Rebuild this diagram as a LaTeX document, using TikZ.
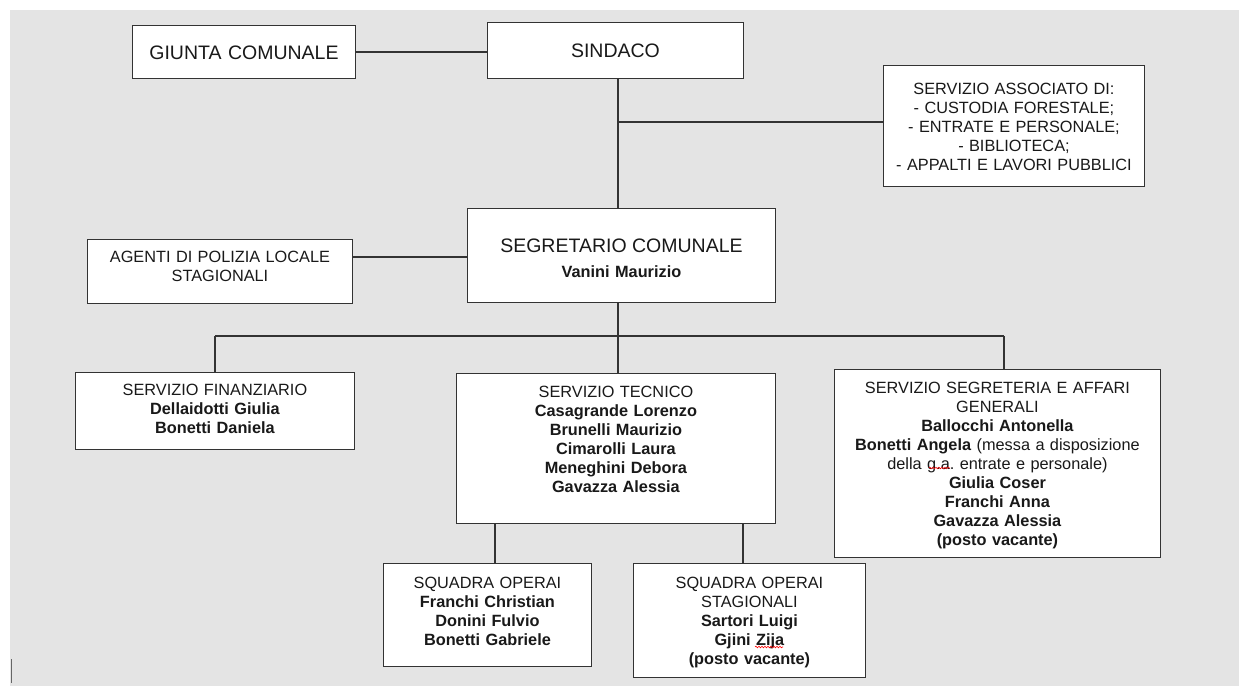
\documentclass[tikz,border=0pt]{standalone}
\usepackage{fontspec}
\setmainfont{Liberation Sans}
\usetikzlibrary{decorations.pathmorphing}
\usetikzlibrary{calc}
\definecolor{sfondo}{HTML}{E4E4E4}
\definecolor{bordo}{HTML}{333333}
\newcommand{\titolo}{\fontsize{19.5}{23}\selectfont}
\newcommand{\testo}{\fontsize{16.3}{19}\selectfont}
\frenchspacing

\begin{document}
\begin{tikzpicture}[x=1pt,y=-1pt,
  ufficio/.style={draw=bordo,fill=white,line width=.9pt,anchor=north west,inner sep=0pt,
    align=center,text=black!90,font=\testo},
  linea/.style={draw=bordo,line width=1.1pt},
  errore/.style={red,line width=.6pt,decorate,decoration={snake,amplitude=.8pt,segment length=3pt}}]
\useasboundingbox (0,0) rectangle (1239,686);
\fill[white] (0,0) rectangle (1239,686);
\fill[sfondo] (9.5,10) rectangle (1239,686);
\draw[black!60,line width=1.2pt] (11.5,659) -- (11.5,683);

\node[ufficio,font=\titolo,text width=223pt,text height=34pt,text depth=19pt] (giunta) at (132,25) {GIUNTA COMUNALE};
\node[ufficio,font=\titolo,text width=256pt,text height=35.5pt,text depth=20.5pt] (sindaco) at (487,22) {SINDACO};
\node[ufficio,text width=261pt,text height=29pt,text depth=92pt] (associato) at (883,65)
  {SERVIZIO ASSOCIATO DI:\\- CUSTODIA FORESTALE;\\- ENTRATE E PERSONALE;\\- BIBLIOTECA;\\- APPALTI E LAVORI PUBBLICI};
\node[ufficio,text width=308pt,text height=44.3pt,text depth=49.7pt] (segretario) at (467,208)
  {{\titolo SEGRETARIO COMUNALE}\\[6pt]\textbf{Vanini Maurizio}};
\node[ufficio,text width=265pt,text height=22.9pt,text depth=41.1pt] (polizia) at (87,239)
  {AGENTI DI POLIZIA LOCALE\\STAGIONALI};
\node[ufficio,text width=279pt,text height=22.9pt,text depth=54.1pt] (finanziario) at (75,372)
  {SERVIZIO FINANZIARIO\\\textbf{Dellaidotti Giulia}\\\textbf{Bonetti Daniela}};
\node[ufficio,text width=319pt,text height=23.6pt,text depth=126.4pt] (tecnico) at (456,373)
  {SERVIZIO TECNICO\\\textbf{Casagrande Lorenzo}\\\textbf{Brunelli Maurizio}\\\textbf{Cimarolli Laura}\\\textbf{Meneghini Debora}\\\textbf{Gavazza Alessia}};
\node[ufficio,text width=326pt,text height=24.2pt,text depth=163.8pt] (segreteria) at (834,369)
  {SERVIZIO SEGRETERIA E AFFARI\\GENERALI\\\textbf{Ballocchi Antonella}\\\textbf{Bonetti Angela} (messa a disposizione\\della g.a. entrate e personale)\\\textbf{Giulia Coser}\\\textbf{Franchi Anna}\\\textbf{Gavazza Alessia}\\\textbf{(posto vacante)}};
\node[ufficio,text width=208pt,text height=24.6pt,text depth=78.4pt] (operai) at (383,563)
  {SQUADRA OPERAI\\\textbf{Franchi Christian}\\\textbf{Donini Fulvio}\\\textbf{Bonetti Gabriele}};
\node[ufficio,text width=232pt,text height=24.6pt,text depth=89.7pt] (stagionali) at (633,563)
  {SQUADRA OPERAI\\STAGIONALI\\\textbf{Sartori Luigi}\\\textbf{Gjini Zija}\\\textbf{(posto vacante)}};

\coordinate (asse) at (618,122);
\coordinate (sinistra) at (215,336);
\coordinate (centro) at (618,336);
\coordinate (destra) at (1004,336);
\coordinate (vigili) at (352,257);
\coordinate (squadra) at (495,0);
\coordinate (stagione) at (743,0);

\draw[linea] (giunta.east) -- (giunta.east -| sindaco.west);
\draw[linea] (asse |- sindaco.south) -- (asse |- segretario.north);
\draw[linea] (asse) -- (asse -| associato.west);
\draw[linea] (vigili) -- (vigili -| segretario.west);
\draw[linea] (asse |- segretario.south) -- (centro);
\draw[linea] (sinistra) -- (destra);
\draw[linea] (sinistra) -- (sinistra |- finanziario.north);
\draw[linea] (centro) -- (centro |- tecnico.north);
\draw[linea] (destra) -- (destra |- segreteria.north);
\draw[linea] (squadra |- tecnico.south) -- (squadra |- operai.north);
\draw[linea] (stagione |- tecnico.south) -- (stagione |- stagionali.north);

\draw[errore] (929,468) -- (950,468);
\draw[errore] (755,647) -- (783,647);
\end{tikzpicture}
\end{document}
